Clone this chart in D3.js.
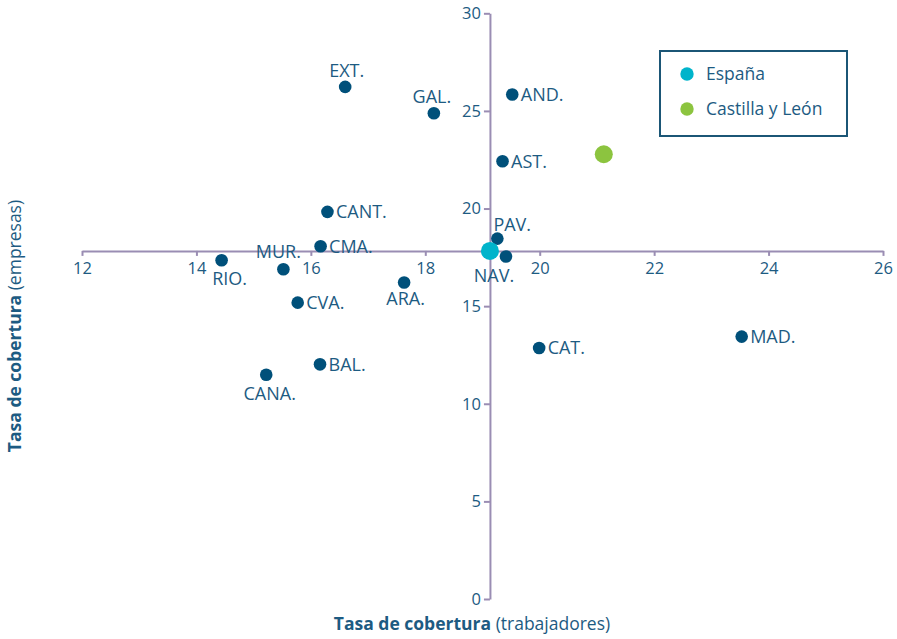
<!DOCTYPE html>
<html>
<head>
<meta charset="utf-8">
<script src="https://cdn.jsdelivr.net/npm/d3@7"></script>
<style>
  html, body { margin: 0; padding: 0; background: #fff; }
  svg { display: block; font-family: "Open Sans", sans-serif; }
</style>
</head>
<body>
<svg id="chart" width="897" height="639"></svg>
<script>
// ---- Data ----
const regions = ["EXT.", "GAL.", "AND.", "AST.", "PAV.", "NAV.", "CANT.", "CMA.", "MUR.", "RIO.", "ARA.", "CVA.", "BAL.", "CANA.", "CAT.", "MAD."];
const trabajadores = [16.60, 18.15, 19.52, 19.35, 19.26, 19.41, 16.29, 16.17, 15.52, 14.44, 17.63, 15.77, 16.16, 15.22, 19.99, 23.53];
const empresas =     [26.23, 24.88, 25.84, 22.42, 18.46, 17.54, 19.83, 18.07, 16.89, 17.35, 16.21, 15.18, 12.02, 11.49, 12.86, 13.44];

const refNames = ["España", "Castilla y León"];
const refTrabajadores = [19.13, 21.12];
const refEmpresas = [17.83, 22.78];

const xTicks = [12, 14, 16, 18, 20, 22, 24, 26];
const yTicks = [0, 5, 10, 15, 20, 25, 30];
const xTitleBold = "Tasa de cobertura";
const xTitleRest = " (trabajadores)";
const yTitleBold = "Tasa de cobertura";
const yTitleRest = " (empresas)";

// ---- Layout / style ----
const FONT = "'Open Sans', sans-serif";
const C_TEXT = "#1d5b82";
const C_DOT = "#00507a";
const C_AXIS = "#9a8db3";
const refColors = ["#00b4cb", "#8cc43f"];

// label placement: [anchor, dx, dy]
const R = ["start", 8.5, 6.5];
const labelPlace = {
  "EXT.": ["middle", 1.5, -9.5],
  "GAL.": ["middle", -2, -10.5],
  "AND.": R, "AST.": R, "CANT.": R, "CMA.": R, "CVA.": R, "BAL.": R, "CAT.": R, "MAD.": R,
  "PAV.": ["start", -4, -8],
  "NAV.": ["middle", -12, 25],
  "MUR.": ["middle", -5, -11],
  "RIO.": ["middle", 8, 25],
  "ARA.": ["middle", 1.5, 22],
  "CANA.": ["middle", 3.5, 25]
};

const svg = d3.select("#chart");
const x = d3.scaleLinear().domain([12, 26]).range([82, 883]);
const y = d3.scaleLinear().domain([0, 30]).range([599, 13.3]);

// axes cross at España
const x0 = x(refTrabajadores[0]);
const y0 = y(refEmpresas[0]);

const xAxis = svg.append("g")
  .attr("transform", `translate(0,${y0})`)
  .call(d3.axisBottom(x).tickValues(xTicks).tickSize(5).tickSizeOuter(0).tickPadding(6).tickFormat(d3.format("d")));
const yAxis = svg.append("g")
  .attr("transform", `translate(${x0},0)`)
  .call(d3.axisLeft(y).tickValues(yTicks).tickSize(6).tickSizeOuter(0).tickPadding(3).tickFormat(d3.format("d")));

[xAxis, yAxis].forEach(g => {
  g.select(".domain").attr("stroke", C_AXIS).attr("stroke-width", 2);
  g.selectAll(".tick line").attr("stroke", C_AXIS).attr("stroke-width", 2);
  g.selectAll(".tick text").attr("fill", C_TEXT).style("font-size", "16.5px").style("font-family", FONT);
});

// region dots
const pts = regions.map((r, i) => ({ name: r, tx: trabajadores[i], te: empresas[i] }));
svg.append("g").selectAll("circle").data(pts).join("circle")
  .attr("cx", d => x(d.tx)).attr("cy", d => y(d.te)).attr("r", 6.3).attr("fill", C_DOT);

svg.append("g").selectAll("text").data(pts).join("text")
  .attr("x", d => x(d.tx) + labelPlace[d.name][1])
  .attr("y", d => y(d.te) + labelPlace[d.name][2])
  .attr("text-anchor", d => labelPlace[d.name][0])
  .attr("fill", C_TEXT).style("font-size", "18px")
  .text(d => d.name);

// reference points
svg.append("g").selectAll("circle").data(refNames).join("circle")
  .attr("cx", (d, i) => x(refTrabajadores[i])).attr("cy", (d, i) => y(refEmpresas[i]))
  .attr("r", 9).attr("fill", (d, i) => refColors[i]);

// legend
const lg = svg.append("g");
lg.append("rect").attr("x", 660).attr("y", 51).attr("width", 187).attr("height", 85)
  .attr("fill", "#fff").attr("stroke", "#1b5676").attr("stroke-width", 2);
refNames.forEach((n, i) => {
  lg.append("circle").attr("cx", 687).attr("cy", 74 + i * 35).attr("r", 6.7).attr("fill", refColors[i]);
  lg.append("text").attr("x", 706).attr("y", 80 + i * 35).attr("fill", C_TEXT)
    .style("font-size", "17.5px").text(n);
});

// axis titles
const xt = svg.append("text").attr("x", 472).attr("y", 630).attr("text-anchor", "middle")
  .attr("fill", C_TEXT).style("font-size", "17.5px");
xt.append("tspan").attr("font-weight", "bold").text(xTitleBold);
xt.append("tspan").text(xTitleRest);

const yt = svg.append("text").attr("transform", "translate(21,326) rotate(-90)").attr("text-anchor", "middle")
  .attr("fill", C_TEXT).style("font-size", "17.5px");
yt.append("tspan").attr("font-weight", "bold").text(yTitleBold);
yt.append("tspan").text(yTitleRest);
</script>
</body>
</html>
